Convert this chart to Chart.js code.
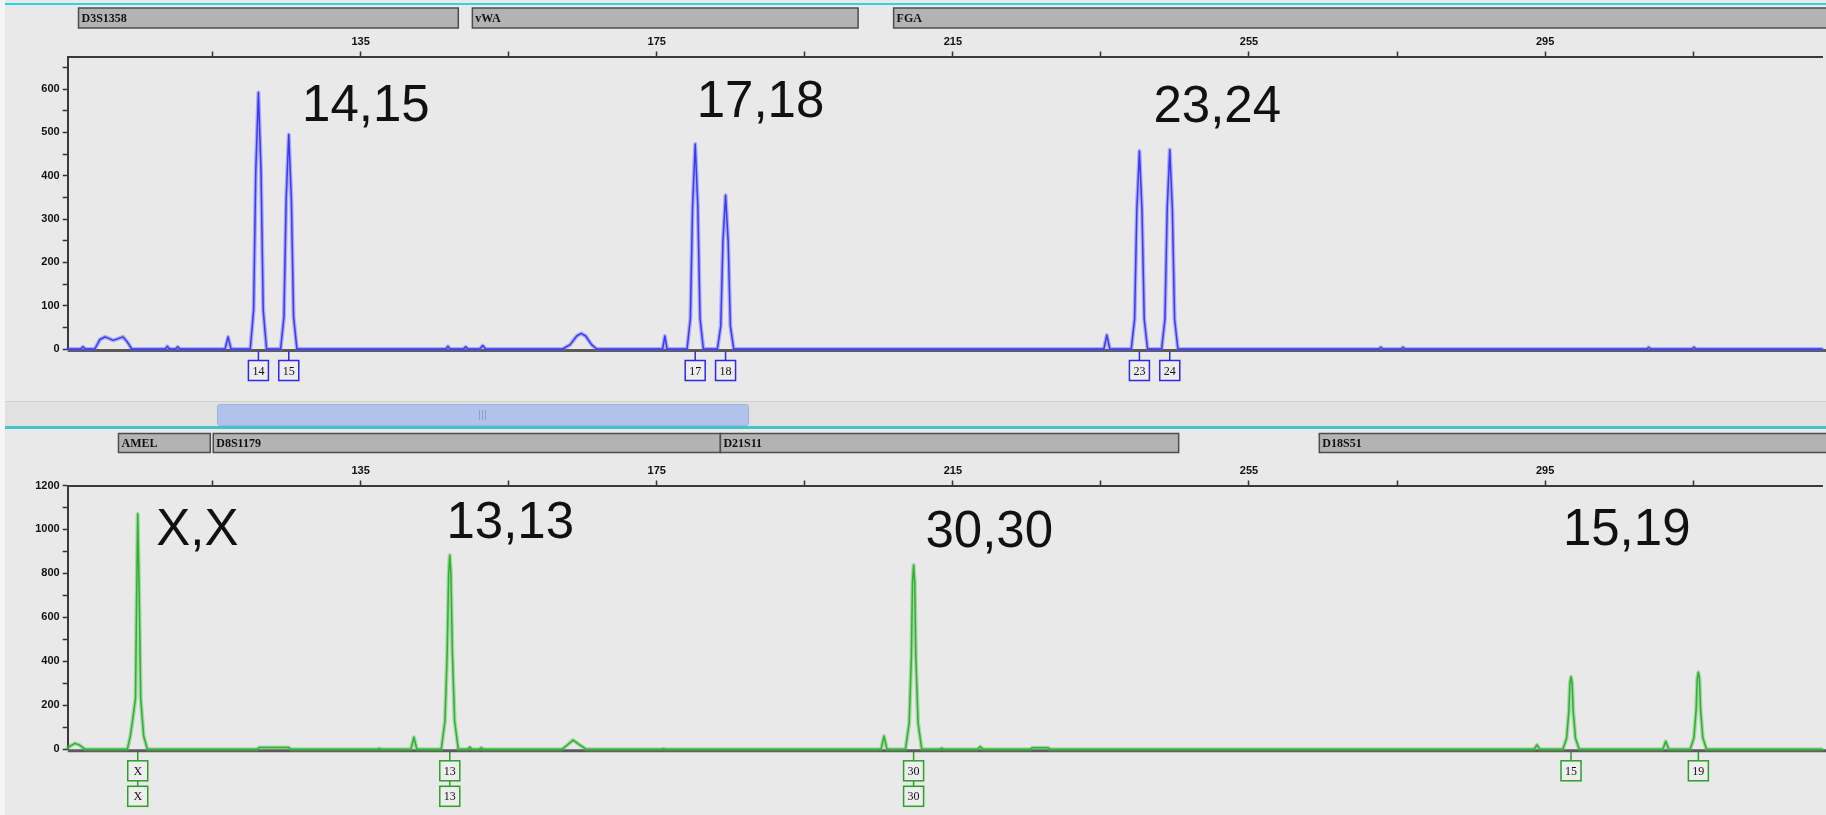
<!DOCTYPE html>
<html lang="en">
<head>
    <meta charset="UTF-8">
    <title>STR Electropherogram</title>
    <style>
        body {
            margin: 0;
            width: 1826px;
            height: 815px;
            background-color: #e9e9e9;
            overflow: hidden;
            position: relative;
        }
        #leftStrip { position: absolute; left: 0; top: 0; width: 5px; height: 815px; background: #f6f6f6; }
        #topLine { position: absolute; left: 5px; right: 0; top: 3px; height: 2px; background: #2ad6e2; }
        #scrollBand { position: absolute; left: 5px; right: 0; top: 401px; height: 25px; background: #e1e1e1; border-top: 1px solid #d0d0d0; }
        #scrollThumb { position: absolute; left: 217px; width: 530px; top: 404px; height: 20px; background: #b1c3eb; border: 1px solid #9fb3e2; border-radius: 3px; }
        #grip { position: absolute; left: 261px; top: 5px; width: 8px; height: 10px;
                background: repeating-linear-gradient(90deg, #8a9fd4 0 1px, transparent 1px 3px); }
        #midLine { position: absolute; left: 5px; right: 0; top: 426px; height: 3px; background: #45c3c9; }
        canvas { position: absolute; left: 0; }
        #topChart { top: 0; }
        #bottomChart { top: 430px; }
    </style>
</head>
<body>
    <div id="leftStrip"></div>
    <div id="topLine"></div>
    <div id="scrollBand"></div>
    <div id="scrollThumb"><div id="grip"></div></div>
    <div id="midLine"></div>
    <canvas id="topChart" width="1826" height="400"></canvas>
    <canvas id="bottomChart" width="1826" height="385"></canvas>

    <script src="https://cdn.jsdelivr.net/npm/chart.js"></script>
    <script>
        // size axis (bp)
        const xMin = 95.44, xMax = 332.4;
        const xTicks = [115, 135, 155, 175, 195, 215, 235, 255, 275, 295, 315];
        const xTickLabels = [135, 175, 215, 255, 295];

        // blue dye trace (bp, RFU)
        const blueBp = [95.44, 97.2, 97.5, 97.8, 99.1, 99.8, 100.5, 101.6, 102.9, 103.5, 104.1,
            108.6, 108.9, 109.2, 110.0, 110.3, 110.6, 116.7, 117.1, 117.5,
            120.1, 120.55, 120.85, 121.2, 121.55, 121.85, 122.3,
            124.2, 124.65, 124.95, 125.3, 125.65, 125.95, 126.4,
            146.5, 146.8, 147.1, 148.9, 149.2, 149.5, 151.1, 151.5, 151.9,
            162.3, 163.3, 164.2, 164.8, 165.4, 166.2, 166.9, 175.8, 176.1, 176.4,
            179.1, 179.55, 179.85, 180.2, 180.55, 180.85, 181.3,
            183.2, 183.65, 183.95, 184.3, 184.65, 184.95, 185.4,
            235.4, 235.8, 236.2,
            239.1, 239.55, 239.85, 240.2, 240.55, 240.85, 241.3,
            243.2, 243.65, 243.95, 244.3, 244.65, 244.95, 245.4,
            272.5, 272.8, 273.1, 275.5, 275.8, 276.1,
            308.7, 309.0, 309.3, 314.8, 315.1, 315.4, 332.4];
        const blueRfu = [0, 0, 5, 0, 0, 22, 28, 20, 28, 16, 0,
            0, 6, 0, 0, 5, 0, 0, 28, 0,
            0, 89, 414, 592, 414, 89, 0,
            0, 74, 347, 495, 347, 74, 0,
            0, 6, 0, 0, 5, 0, 0, 8, 0,
            0, 10, 30, 36, 30, 10, 0, 0, 30, 0,
            0, 71, 331, 473, 331, 71, 0,
            0, 53, 249, 355, 249, 53, 0,
            0, 32, 0,
            0, 69, 320, 457, 320, 69, 0,
            0, 69, 322, 460, 322, 69, 0,
            0, 4, 0, 0, 4, 0,
            0, 4, 0, 0, 4, 0, 0];

        // green dye trace (bp, RFU)
        const greenBp = [95.44, 96.4, 97.0, 97.8,
            103.5, 103.9, 104.2, 104.6, 104.75, 104.9, 105.1, 105.3, 105.7, 106.2,
            121.0, 121.3, 125.3, 125.6, 137.3, 137.5, 137.7, 141.8, 142.2, 142.6,
            145.9, 146.4, 146.7, 146.9, 147.05, 147.2, 147.4, 147.7, 148.2,
            149.45, 149.75, 150.05, 151.0, 151.3, 151.6,
            162.2, 163.0, 163.7, 164.5, 165.5, 175.6, 175.9, 176.2,
            205.3, 205.7, 206.1,
            208.6, 209.1, 209.4, 209.55, 209.7, 209.85, 210.0, 210.3, 210.8,
            213.2, 213.5, 213.8, 218.3, 218.7, 219.1, 225.5, 225.7, 227.9, 228.1,
            293.5, 293.9, 294.3,
            297.4, 297.9, 298.2, 298.35, 298.5, 298.65, 298.8, 299.1, 299.6,
            310.9, 311.3, 311.7,
            314.6, 315.1, 315.4, 315.55, 315.7, 315.85, 316.0, 316.3, 316.8, 332.4];
        const greenRfu = [8, 27, 20, 0,
            0, 60, 130, 233, 694, 1070, 694, 233, 60, 0,
            0, 8, 8, 0, 0, 4, 0, 0, 55, 0,
            0, 130, 440, 800, 883, 800, 440, 130, 0,
            0, 10, 0, 0, 7, 0,
            0, 22, 42, 22, 0, 0, 3, 0,
            0, 60, 0,
            0, 120, 420, 760, 838, 760, 420, 120, 0,
            0, 5, 0, 0, 12, 0, 0, 7, 7, 0,
            0, 20, 0,
            0, 50, 170, 300, 330, 300, 170, 50, 0,
            0, 36, 0,
            0, 52, 180, 320, 350, 320, 180, 52, 0, 0];

        // loci bins
        const topLoci = ['D3S1358', 'vWA', 'FGA'];
        const topLociStart = [96.9, 150.1, 207.0];
        const topLociEnd = [148.2, 202.2, 345];
        const bottomLoci = ['AMEL', 'D8S1179', 'D21S11', 'D18S51'];
        const bottomLociStart = [102.3, 115.1, 183.6, 264.5];
        const bottomLociEnd = [114.7, 183.6, 245.5, 345];

        // allele calls
        const topAlleles = ['14', '15', '17', '18', '23', '24'];
        const topAlleleBp = [121.2, 125.3, 180.2, 184.3, 240.2, 244.3];
        const bottomAlleles = ['X', '13', '30', '15', '19'];
        const bottomAlleleBp = [104.9, 147.05, 209.7, 298.5, 315.7];
        const bottomAlleleRows = [2, 2, 2, 1, 1];

        // genotype callouts
        const topCalls = ['14,15', '17,18', '23,24'];
        const topCallBp = [127.1, 180.4, 242.1];
        const topCallRfu = [527, 535, 525];
        const bottomCalls = ['X,X', '13,13', '30,30', '15,19'];
        const bottomCallBp = [107.4, 146.6, 211.3, 297.4];
        const bottomCallRfu = [929, 959, 920, 930];

        const decor = {
            id: 'decor',
            beforeDatasetsDraw(chart) {
                const { ctx, chartArea, scales: { y } } = chart;
                const y0 = y.getPixelForValue(0) + 1.5;
                ctx.save();
                ctx.strokeStyle = '#5a5a5a';
                ctx.lineWidth = 3;
                ctx.beginPath();
                ctx.moveTo(chartArea.left, y0);
                ctx.lineTo(chartArea.right + 4, y0);
                ctx.stroke();
                ctx.restore();
            },
            afterDraw(chart, args, opts) {
                const { ctx, scales: { x, y } } = chart;
                const y0 = y.getPixelForValue(0) + 1.5;
                ctx.save();

                // locus bars
                opts.loci.forEach((name, i) => {
                    const x1 = x.getPixelForValue(opts.lociStart[i]);
                    const x2 = Math.min(x.getPixelForValue(opts.lociEnd[i]), chart.width + 5);
                    ctx.fillStyle = '#b3b3b3';
                    ctx.fillRect(x1, opts.barTop, x2 - x1, opts.barH);
                    ctx.strokeStyle = '#4d4d4d';
                    ctx.lineWidth = 1.5;
                    ctx.strokeRect(x1, opts.barTop, x2 - x1, opts.barH);
                    ctx.fillStyle = '#111';
                    ctx.font = 'bold 12px "Liberation Serif", serif';
                    ctx.textAlign = 'left';
                    ctx.textBaseline = 'middle';
                    ctx.fillText(name, x1 + 3, opts.barTop + opts.barH / 2 + 1);
                });

                // allele label boxes
                opts.alleles.forEach((label, i) => {
                    const cx = x.getPixelForValue(opts.alleleBp[i]);
                    const rows = opts.rows ? opts.rows[i] : 1;
                    let top = y0 + opts.boxGap;
                    ctx.strokeStyle = opts.color;
                    ctx.lineWidth = 1.5;
                    ctx.beginPath();
                    ctx.moveTo(cx, y0 + 1);
                    ctx.lineTo(cx, top);
                    ctx.stroke();
                    for (let r = 0; r < rows; r++) {
                        ctx.fillStyle = '#eeeeee';
                        ctx.fillRect(cx - 10, top, 20, 20);
                        ctx.strokeRect(cx - 10, top, 20, 20);
                        ctx.fillStyle = '#111';
                        ctx.font = '12px "Liberation Serif", serif';
                        ctx.textAlign = 'center';
                        ctx.textBaseline = 'middle';
                        ctx.fillText(label, cx, top + 11);
                        if (r < rows - 1) {
                            ctx.beginPath();
                            ctx.moveTo(cx, top + 20);
                            ctx.lineTo(cx, top + 25.5);
                            ctx.stroke();
                        }
                        top += 25.5;
                    }
                });

                // genotype callouts
                ctx.fillStyle = '#111';
                ctx.font = '51px "Liberation Sans", Arial, sans-serif';
                ctx.textAlign = 'left';
                ctx.textBaseline = 'alphabetic';
                opts.calls.forEach((txt, i) => {
                    ctx.fillText(txt, x.getPixelForValue(opts.callBp[i]), y.getPixelForValue(opts.callRfu[i]));
                });
                ctx.restore();
            }
        };

        function makePanel(id, cfg) {
            const pts = cfg.bp.map((v, i) => ({ x: v, y: cfg.rfu[i] }));
            const tickFont = { family: 'Liberation Sans', size: 11, weight: 'bold' };
            const line = { pointRadius: 0, tension: 0, clip: false, borderJoinStyle: 'round', borderCapStyle: 'round' };
            return new Chart(document.getElementById(id).getContext('2d'), {
                type: 'line',
                data: {
                    datasets: [
                        { ...line, data: pts, borderColor: cfg.halo, borderWidth: 4 },
                        { ...line, data: pts, borderColor: cfg.color, borderWidth: 1.5 }
                    ]
                },
                options: {
                    responsive: false,
                    animation: false,
                    events: [],
                    layout: { padding: { top: 0, right: 4, bottom: cfg.padBottom, left: 0 } },
                    plugins: {
                        legend: { display: false },
                        tooltip: { enabled: false },
                        decor: cfg.decor
                    },
                    scales: {
                        x: {
                            type: 'linear',
                            position: 'top',
                            min: xMin,
                            max: xMax,
                            afterBuildTicks: s => { s.ticks = xTicks.map(v => ({ value: v })); },
                            afterFit: s => { s.height = cfg.axisTop; },
                            ticks: {
                                autoSkip: false,
                                maxRotation: 0,
                                padding: 3,
                                color: '#111',
                                font: tickFont,
                                callback: v => xTickLabels.includes(v) ? String(v) : ''
                            },
                            grid: { drawOnChartArea: false, tickLength: 5, tickColor: '#333', tickWidth: 1.5 },
                            border: { display: true, color: '#3a3a3a', width: 2 }
                        },
                        y: {
                            min: 0,
                            max: cfg.yMax,
                            afterBuildTicks: s => { s.ticks = cfg.yTicks.map(v => ({ value: v })); },
                            afterFit: s => { s.width = 67.7; },
                            ticks: {
                                autoSkip: false,
                                padding: 3,
                                color: '#111',
                                font: tickFont,
                                callback: v => cfg.yLabels.includes(v) ? String(v) : ''
                            },
                            grid: { drawOnChartArea: false, tickLength: 5, tickColor: '#333', tickWidth: 1.5 },
                            border: { display: true, color: '#3a3a3a', width: 2 }
                        }
                    }
                },
                plugins: [decor]
            });
        }

        makePanel('topChart', {
            bp: blueBp, rfu: blueRfu,
            color: '#1a1af2', halo: 'rgba(95, 95, 255, 0.45)',
            yMax: 675,
            yTicks: [0, 50, 100, 150, 200, 250, 300, 350, 400, 450, 500, 550, 600, 650],
            yLabels: [0, 100, 200, 300, 400, 500, 600],
            axisTop: 56.5, padBottom: 51,
            decor: {
                loci: topLoci, lociStart: topLociStart, lociEnd: topLociEnd, barTop: 8, barH: 20,
                alleles: topAlleles, alleleBp: topAlleleBp, boxGap: 10, color: '#2a2ae8',
                calls: topCalls, callBp: topCallBp, callRfu: topCallRfu
            }
        });

        makePanel('bottomChart', {
            bp: greenBp, rfu: greenRfu,
            color: '#16a016', halo: 'rgba(80, 195, 80, 0.45)',
            yMax: 1200,
            yTicks: [0, 100, 200, 300, 400, 500, 600, 700, 800, 900, 1000, 1100, 1200],
            yLabels: [0, 200, 400, 600, 800, 1000, 1200],
            axisTop: 55.5, padBottom: 65.7,
            decor: {
                loci: bottomLoci, lociStart: bottomLociStart, lociEnd: bottomLociEnd, barTop: 3.5, barH: 19,
                alleles: bottomAlleles, alleleBp: bottomAlleleBp, rows: bottomAlleleRows, boxGap: 10, color: '#2aa02a',
                calls: bottomCalls, callBp: bottomCallBp, callRfu: bottomCallRfu
            }
        });
    </script>
</body>
</html>
